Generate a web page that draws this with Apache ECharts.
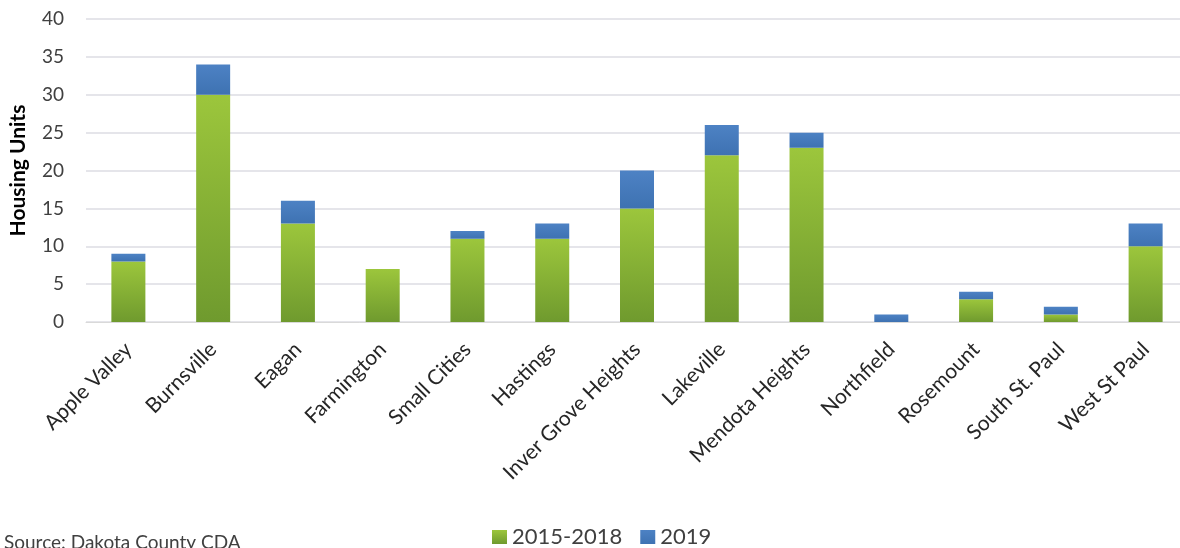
<!DOCTYPE html>
<html>
<head>
<meta charset="utf-8">
<script src="https://cdn.jsdelivr.net/npm/echarts@6/dist/echarts.min.js"></script>
<style>
  html, body { margin: 0; padding: 0; background: #ffffff; }
  #chart { width: 1180px; height: 548px; }
</style>
</head>
<body>
<div id="chart"></div>
<script>
// Housing units by city, stacked by period
const cities = [
  'Apple Valley', 'Burnsville', 'Eagan', 'Farmington', 'Small Cities', 'Hastings',
  'Inver Grove Heights', 'Lakeville', 'Mendota Heights', 'Northfield', 'Rosemount',
  'South St. Paul', 'West St Paul'
];
const units2015to2018 = [8, 30, 13, 7, 11, 11, 15, 22, 23, 0, 3, 1, 10];
const units2019       = [1, 4, 3, 0, 1, 2, 5, 4, 2, 1, 1, 1, 3];
const seriesNames = ['2015-2018', '2019'];
const sourceNote = 'Source: Dakota County CDA';

const font = 'Lato, "Open Sans", sans-serif';

const greenFill = new echarts.graphic.LinearGradient(0, 0, 0, 1, [
  { offset: 0, color: '#9cc63c' },
  { offset: 1, color: '#6f9a2e' }
]);
const blueFill = new echarts.graphic.LinearGradient(0, 0, 0, 1, [
  { offset: 0, color: '#4d82c4' },
  { offset: 1, color: '#3e72b2' }
]);

const chart = echarts.init(document.getElementById('chart'));
chart.setOption({
  animation: false,
  backgroundColor: '#ffffff',
  grid: { left: 86, right: -8, top: 19, bottom: 226, containLabel: false, outerBoundsMode: 'none' },
  legend: {
    data: seriesNames,
    top: 526,
    left: 492,
    padding: 0,
    itemWidth: 15,
    itemHeight: 14,
    itemGap: 18,
    icon: 'rect',
    textStyle: { fontFamily: font, fontSize: 22, color: '#404040', padding: [2, 0, 0, 0] }
  },
  graphic: [{
    type: 'text',
    left: 4,
    top: 533,
    style: { text: sourceNote, fontFamily: font, fontSize: 19, fill: '#404040' }
  }],
  xAxis: {
    type: 'category',
    data: cities,
    axisLine: { lineStyle: { color: '#d9d9d9', width: 1 } },
    axisTick: { show: false },
    axisLabel: {
      interval: 0,
      rotate: 45,
      margin: 24,
      fontFamily: font,
      fontSize: 21,
      color: '#262626'
    }
  },
  yAxis: {
    type: 'value',
    min: 0,
    max: 40,
    interval: 5,
    name: 'Housing Units',
    nameLocation: 'middle',
    nameGap: 57,
    nameTextStyle: { fontFamily: font, fontSize: 21, fontWeight: 'bold', color: '#000000' },
    axisLine: { show: false },
    axisTick: { show: false },
    axisLabel: { margin: 22, fontFamily: font, fontSize: 19, color: '#404040' },
    splitLine: { lineStyle: { color: '#dcdde3', width: 1.5 } }
  },
  series: [
    {
      name: seriesNames[0],
      type: 'bar',
      stack: 'units',
      data: units2015to2018,
      barWidth: 34,
      itemStyle: { color: greenFill }
    },
    {
      name: seriesNames[1],
      type: 'bar',
      stack: 'units',
      data: units2019,
      barWidth: 34,
      itemStyle: { color: blueFill }
    }
  ]
});
</script>
</body>
</html>
